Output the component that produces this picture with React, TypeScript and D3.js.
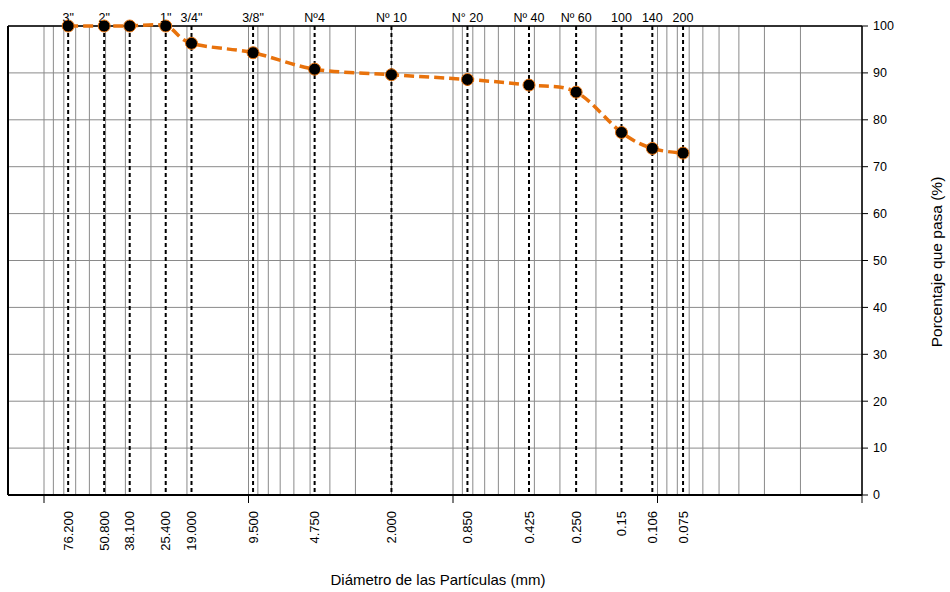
import React from "react";
import * as d3 from "d3";

const sieveSizes = [76.2, 50.8, 38.1, 25.4, 19.0, 9.5, 4.75, 2.0, 0.85, 0.425, 0.25, 0.15, 0.106, 0.075];
const percentPassing = [100, 100, 100, 100, 96.3, 94.3, 90.8, 89.6, 88.6, 87.4, 85.9, 77.3, 73.9, 72.9];
const topLabels = ['3"', '2"', "", '1"', '3/4"', '3/8"', "Nº4", "Nº 10", "N° 20", "Nº 40", "Nº 60", "100", "140", "200"];
const bottomLabels = ["76.200", "50.800", "38.100", "25.400", "19.000", "9.500", "4.750", "2.000", "0.850", "0.425", "0.250", "0.15", "0.106", "0.075"];
const yTicks = [0, 10, 20, 30, 40, 50, 60, 70, 80, 90, 100];
const decades = [0.01, 0.1, 1, 10, 100];
const xDomain = [150, 0.01];

const FONT = "'Liberation Sans', Arial, sans-serif";
const ORANGE = "#E8720C";

export default function App() {
  const W = 950, H = 592;
  const left = 8, right = 862, top = 26, bottom = 495;
  const x = d3.scaleLog().domain(xDomain).range([left, right]);
  const y = d3.scaleLinear().domain([0, 100]).range([bottom, top]);

  const minor: number[] = [];
  decades.forEach((d) => {
    for (let k = 1; k <= 9; k++) {
      const v = +(k * d).toPrecision(6);
      if (v <= xDomain[0] && v >= xDomain[1]) minor.push(v);
    }
  });

  const pts = sieveSizes.map((s, i) => [x(s), y(percentPassing[i])] as [number, number]);
  const line = d3.line().curve(d3.curveCardinal.tension(0))(pts) || "";

  return (
    <svg width={W} height={H} style={{ position: "absolute", left: 0, top: 0, background: "#fff" }} fontFamily={FONT}>
      <rect x={0} y={0} width={W} height={H} fill="#fff" />
      {minor.map((v, i) => (
        <line key={"g" + i} x1={x(v)} x2={x(v)} y1={top} y2={bottom} stroke="#8a8a8a" strokeWidth={1} />
      ))}
      {yTicks.map((t) => (
        <line key={"h" + t} x1={left} x2={right} y1={y(t)} y2={y(t)} stroke="#8a8a8a" strokeWidth={1} />
      ))}
      {sieveSizes.map((s, i) => (
        <line key={"d" + i} x1={x(s)} x2={x(s)} y1={top} y2={bottom} stroke="#000" strokeWidth={2} strokeDasharray="4,3" />
      ))}
      <line x1={left} x2={right} y1={top} y2={top} stroke="#000" strokeWidth={1.5} />
      <line x1={left} x2={left} y1={top} y2={bottom} stroke="#000" strokeWidth={2} />
      <line x1={right} x2={right} y1={top} y2={bottom} stroke="#000" strokeWidth={1.5} />
      <line x1={left} x2={right} y1={bottom} y2={bottom} stroke="#000" strokeWidth={2} />
      {decades.map((d) => (
        <line key={"t" + d} x1={x(d)} x2={x(d)} y1={bottom} y2={bottom + 8} stroke="#000" strokeWidth={1} />
      ))}
      {yTicks.map((t) => (
        <g key={"y" + t}>
          <line x1={right} x2={right + 6} y1={y(t)} y2={y(t)} stroke="#000" strokeWidth={1} />
          <text x={right + 11} y={y(t)} dy="0.35em" fontSize={12.5} fill="#000">{t}</text>
        </g>
      ))}
      <path d={line} fill="none" stroke={ORANGE} strokeWidth={3.5} strokeDasharray="10,5" />
      {pts.map((p, i) => (
        <circle key={"c" + i} cx={p[0]} cy={p[1]} r={6} fill="#000" stroke={ORANGE} strokeWidth={1} />
      ))}
      {sieveSizes.map((s, i) => (
        <text key={"tl" + i} x={x(s)} y={22} textAnchor="middle" fontSize={12.5} fill="#000">{topLabels[i]}</text>
      ))}
      {sieveSizes.map((s, i) => (
        <text key={"bl" + i} transform={`translate(${x(s)},${511}) rotate(-90)`} textAnchor="end" dy="0.35em" fontSize={13} fill="#000">{bottomLabels[i]}</text>
      ))}
      <text x={438} y={585} textAnchor="middle" fontSize={15} fill="#000">Diámetro de las Partículas (mm)</text>
      <text transform={`translate(942,262) rotate(-90)`} textAnchor="middle" fontSize={15.5} fill="#000">Porcentaje que pasa (%)</text>
    </svg>
  );
}
